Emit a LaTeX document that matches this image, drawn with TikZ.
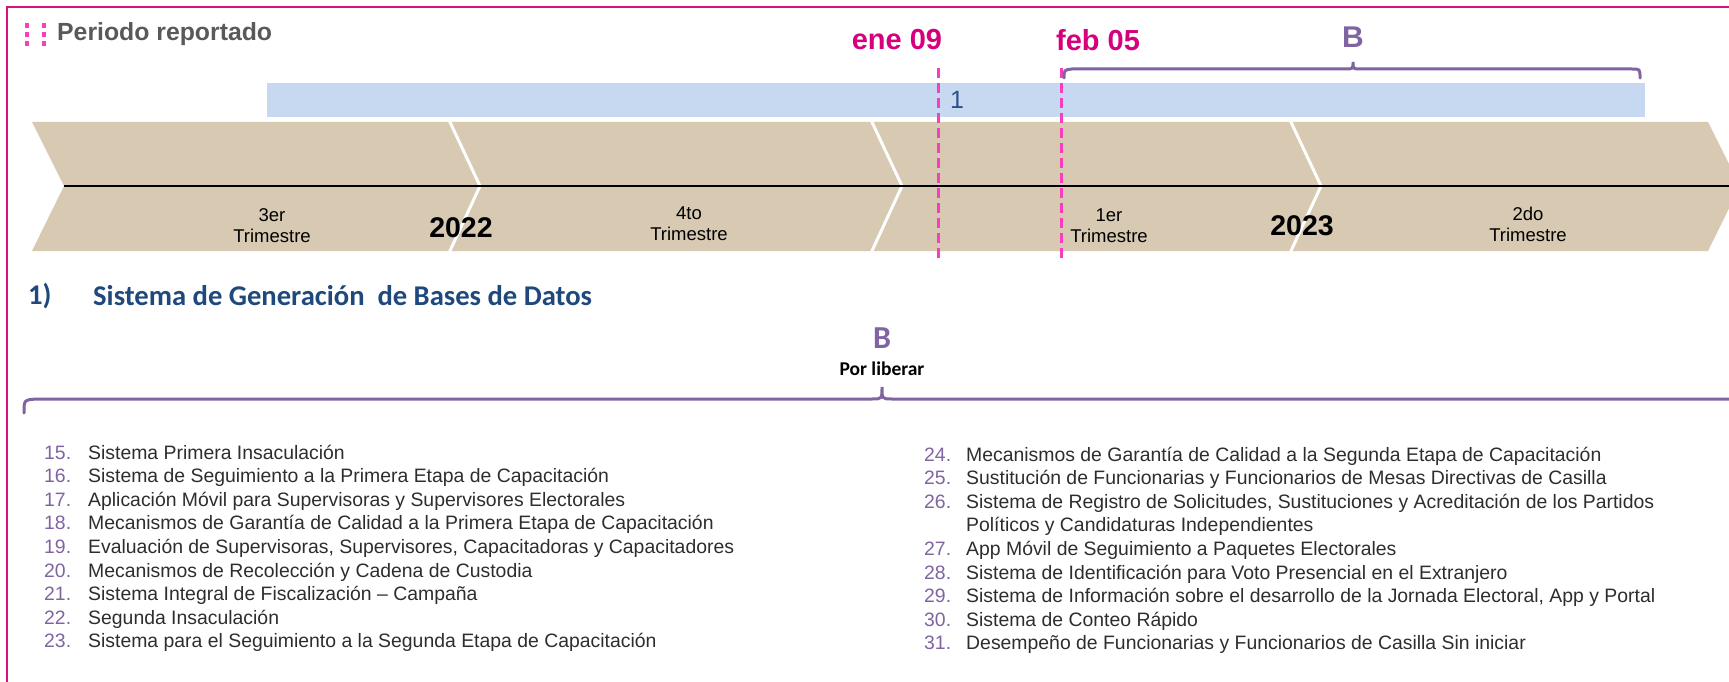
\documentclass[tikz,border=0pt]{standalone}
\usepackage{fontspec}
\setmainfont{Liberation Sans}
\newfontfamily\calibri{Carlito}
\definecolor{frame}{RGB}{216,18,125}
\definecolor{datecol}{RGB}{214,0,124}
\definecolor{dashcol}{RGB}{250,60,190}
\definecolor{purp}{RGB}{128,100,162}
\definecolor{titleblue}{RGB}{31,73,125}
\definecolor{onecol}{RGB}{44,80,140}
\definecolor{graytxt}{RGB}{89,89,89}
\definecolor{listtxt}{RGB}{45,45,45}
\definecolor{tan}{RGB}{215,201,178}
\definecolor{barblue}{RGB}{198,217,240}
\tikzset{
  datelbl/.style={text=datecol, font=\fontsize{29}{34}\selectfont\bfseries, inner sep=0pt},
  trim/.style={font=\fontsize{18.5}{21}\selectfont, align=center, inner sep=0pt, text=black},
  yearlbl/.style={font=\fontsize{28.5}{34}\selectfont\bfseries, inner sep=0pt},
  datedash/.style={draw=dashcol, line width=3pt, dash pattern=on 10pt off 5pt},
  bracepath/.style={draw=purp, line width=3pt, line cap=round},
  sep/.style={draw=white, line width=3pt},
  num/.style={anchor=base west, inner sep=0pt, text=purp, font=\fontsize{19.4}{23}\selectfont},
  item/.style={anchor=base west, inner sep=0pt, text=listtxt, font=\fontsize{19.4}{23}\selectfont},
  pdot/.style={fill=dashcol, draw=none}
}
\begin{document}
\begin{tikzpicture}[x=1pt,y=-1pt]
\useasboundingbox (0,0) rectangle (1729,682);
% frame
\draw[frame, line width=2.5pt] (7,682) -- (7,7) -- (1729,7);
% title marker dots
\foreach \xx in {27,44} \foreach \yy in {26,35,44} \fill[pdot] (\xx-2,\yy-2.5) rectangle (\xx+2,\yy+2.5);
\node[anchor=west, inner sep=0pt, text=graytxt, font=\fontsize{24.8}{29}\selectfont\bfseries] (periodo) at (57,34) {Periodo reportado};
% blue bar
\fill[barblue] (267,83) rectangle (1645,117);
\node[inner sep=0pt, text=onecol, font=\fontsize{25}{30}\selectfont] (one) at (957,100) {1};
% chevron band
\fill[tan] (32,122) -- (1708,122) -- (1740,186) -- (1708,251) -- (32,251) -- (64,186) -- cycle;
\draw[sep] (449,120) -- (480,186) -- (449,253);
\draw[sep] (871,120) -- (902,186) -- (871,253);
\draw[sep] (1290,120) -- (1321,186) -- (1290,253);
\coordinate (axisL) at (64,186);
\coordinate (axisR) at (1729,186);
\draw[black, line width=2.5pt] (axisL) -- (axisR);
% quarter labels
\node[trim] (q3) at (272,226) {3er\\Trimestre};
\node[trim] (q4) at (689,224) {4to\\Trimestre};
\node[trim] (q1) at (1109,226) {1er\\Trimestre};
\node[trim] (q2) at (1528,224) {2do\\Trimestre};
\node[yearlbl] (y22) at (461,228) {2022};
\node[yearlbl] (y23) at (1302,226) {2023};
% dates
\node[datelbl] (ene) at (897,40) {ene 09};
\node[datelbl] (feb) at (1098,40) {feb 05};
\coordinate (eneT) at (938,68); \coordinate (eneB) at (938,259);
\coordinate (febT) at (1061,68); \coordinate (febB) at (1061,259);
\draw[datedash] (eneT) -- (eneB);
\draw[datedash] (febT) -- (febB);
% top brace
\node[text=purp, font=\fontsize{30}{34}\selectfont\bfseries, inner sep=0pt] (Btop) at (1353,37) {B};
\draw[bracepath] (1064,78) .. controls (1064,70) .. (1072,69) -- (1345,69) .. controls (1353,69) .. (1353,62) .. controls (1353,69) .. (1361,69) -- (1632,69) .. controls (1640,69) .. (1640,78);
% section title
\node[anchor=west, inner sep=0pt, text=titleblue, font=\calibri\fontsize{28.6}{32}\selectfont\bfseries] (num1) at (28,296) {1)};
\node[anchor=west, inner sep=0pt, text=titleblue, font=\calibri\fontsize{28.6}{32}\selectfont\bfseries] (title) at (93,296) {Sistema de Generación\ \ de Bases de Datos};
% lower brace
\node[text=purp, font=\calibri\fontsize{32}{36}\selectfont\bfseries, inner sep=0pt] (Bmid) at (882,338) {B};
\node[text=black, font=\calibri\fontsize{19.5}{23}\selectfont\bfseries, inner sep=0pt] (porlib) at (882,369) {Por liberar};
\coordinate (braceL) at (24,413);
\coordinate (braceR) at (1729,399);
\draw[bracepath] (braceL) .. controls (24,400) .. (36,399) -- (872,399) .. controls (882,399) .. (882,387) .. controls (882,399) .. (892,399) -- (braceR);
% left list
\foreach \n/\t [count=\i from 0] in {
 15./Sistema Primera Insaculación,
 16./Sistema de Seguimiento a la Primera Etapa de Capacitación,
 17./Aplicación Móvil para Supervisoras y Supervisores Electorales,
 18./Mecanismos de Garantía de Calidad a la Primera Etapa de Capacitación,
 19./{Evaluación de Supervisoras, Supervisores, Capacitadoras y Capacitadores},
 20./Mecanismos de Recolección y Cadena de Custodia,
 21./Sistema Integral de Fiscalización – Campaña,
 22./Segunda Insaculación,
 23./Sistema para el Seguimiento a la Segunda Etapa de Capacitación}{
  \node[num] (ln\i) at (44,459+23.6*\i) {\n};
  \node[item] (lt\i) at (88,459+23.6*\i) {\t};
}
% right list
\foreach \n/\t/\r [count=\i from 0] in {
 24./Mecanismos de Garantía de Calidad a la Segunda Etapa de Capacitación/0,
 25./Sustitución de Funcionarias y Funcionarios de Mesas Directivas de Casilla/1,
 26./{Sistema de Registro de Solicitudes, Sustituciones  y Acreditación de los Partidos}/2,
 27./App Móvil de Seguimiento a Paquetes Electorales/4,
 28./Sistema de Identificación para Voto Presencial en el Extranjero/5,
 29./{Sistema de Información sobre el desarrollo de la Jornada Electoral, App y Portal}/6,
 30./Sistema de Conteo Rápido/7,
 31./Desempeño de Funcionarias y Funcionarios de Casilla Sin iniciar/8}{
  \node[num] (rn\i) at (924,461+23.6*\r) {\n};
  \node[item] (rt\i) at (966,461+23.6*\r) {\t};
}
\node[item] (rt2b) at (966,461+23.6*3) {Políticos y Candidaturas Independientes};
\end{tikzpicture}
\end{document}
